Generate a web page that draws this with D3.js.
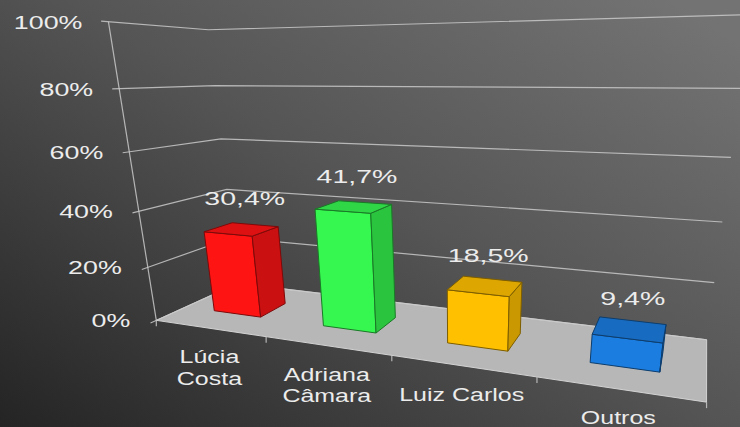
<!DOCTYPE html>
<html><head><meta charset="utf-8">
<script src="https://cdn.jsdelivr.net/npm/d3@7"></script>
<style>html,body{margin:0;padding:0;background:#3a3a3a;}svg{display:block}</style>
</head><body>
<svg id="chart" width="740" height="427"></svg>
<script>
// ---- data ----
const categories = [["Lúcia","Costa"],["Adriana","Câmara"],["Luiz Carlos"],["Outros"]];
const values = [30.4, 41.7, 18.5, 9.4];
const valueLabels = ["30,4%","41,7%","18,5%","9,4%"];
const yTicks = [0,20,40,60,80,100];
const yTickLabels = ["0%","20%","40%","60%","80%","100%"];
const barColors = ["#ff1414","#36f750","#ffc000","#1b7ddf"];

// ---- view calibration: world (category units, percent, depth 0=front..1=back) -> screen px ----
const calib = [
  [0,0,0,157,318],[0,100,0,108,23],[0,40,0,139,210],
  [1,0,0,265,337],[2,0,0,392,355],[3,0,0,537,380],[4,0,0,707,402],
  [0,0,1,237,286],[0,20,1,232,240],[0,40,1,227,187],[0,60,1,222,137],[0,80,1,217,86],[0,100,1,206,30],
  [4,0,1,707,337],[4,20,1,713,282],[4,40,1,722,223],[4,60,1,732,158]
];

const W = 740, H = 427;
const svg = d3.select("#chart");

const x = d3.scaleBand().domain(d3.range(categories.length)).range([0, categories.length])
  .paddingInner(0.56).paddingOuter(0.28);
const y = d3.scaleLinear().domain([0,100]).range([0,1]);

function solveCamera(pts){
  const A=[], b=[];
  pts.forEach(([X,Yv,Z,u,v])=>{
    const Y = y(Yv);
    A.push([X,Y,Z,1,0,0,0,0,-u*X,-u*Y,-u*Z]); b.push(u);
    A.push([0,0,0,0,X,Y,Z,1,-v*X,-v*Y,-v*Z]); b.push(v);
  });
  const n=11; const M=[...Array(n)].map(()=>Array(n+1).fill(0));
  for(let r=0;r<A.length;r++) for(let i=0;i<n;i++){
    for(let j=0;j<n;j++) M[i][j]+=A[r][i]*A[r][j];
    M[i][n]+=A[r][i]*b[r];
  }
  for(let c=0;c<n;c++){
    let p=c; for(let r=c+1;r<n;r++) if(Math.abs(M[r][c])>Math.abs(M[p][c])) p=r;
    [M[c],M[p]]=[M[p],M[c]];
    for(let r=0;r<n;r++){ if(r===c) continue; const f=M[r][c]/M[c][c]; for(let k=c;k<=n;k++) M[r][k]-=f*M[c][k]; }
  }
  return M.map((row,i)=>row[n]/row[i]);
}
const P = solveCamera(calib);
function proj(X,Yv,Z){
  const Y=y(Yv);
  const w = P[8]*X+P[9]*Y+P[10]*Z+1;
  return [(P[0]*X+P[1]*Y+P[2]*Z+P[3])/w, (P[4]*X+P[5]*Y+P[6]*Z+P[7])/w];
}
const line = d3.line();

// ---- background ----
const defs = svg.append("defs");
const g = defs.append("linearGradient").attr("id","bg").attr("x1","0").attr("y1","1").attr("x2","1").attr("y2","0.1");
g.append("stop").attr("offset","0").attr("stop-color","#242424");
g.append("stop").attr("offset","0.55").attr("stop-color","#555555");
g.append("stop").attr("offset","1").attr("stop-color","#737373");
svg.append("rect").attr("width",W).attr("height",H).attr("fill","url(#bg)");

const nCat = categories.length;
// floor
svg.append("path").attr("d", line([proj(0,0,0),proj(nCat,0,0),proj(nCat,0,1),proj(0,0,1)])+"Z")
  .attr("fill","#b7b7b7").attr("stroke","#d2d2d2").attr("stroke-width",1);

// gridlines
const grid = svg.append("g").attr("fill","none").attr("stroke","#c9c9c9").attr("stroke-width",1.2).attr("stroke-opacity",0.85);
yTicks.forEach(t=>{
  grid.append("path").attr("d", line([proj(0,t,-0.06),proj(0,t,1),proj(nCat,t,1)]));
});
// vertical axis
grid.append("path").attr("d", line([proj(0,0,0),proj(0,100,0)]));
// category ticks on the front edge
d3.range(nCat+1).forEach(i=>{
  const p = proj(i,0,0);
  grid.append("path").attr("d", line([p,[p[0],p[1]+6]]));
});

// bars
const zFront = 0.33, zBack = 0.67;
const bars = svg.append("g");
values.forEach((v,i)=>{
  const x0 = x(i), x1 = x(i)+x.bandwidth();
  const base = d3.color(barColors[i]);
  const faces = [
    {pts:[[x0,0,zFront],[x1,0,zFront],[x1,v,zFront],[x0,v,zFront]], c: base},
    {pts:[[x0,0,zBack],[x0,v,zBack],[x1,v,zBack],[x1,0,zBack]], c: base.darker(0.8)},
    {pts:[[x1,0,zFront],[x1,0,zBack],[x1,v,zBack],[x1,v,zFront]], c: base.darker(0.65)},
    {pts:[[x0,0,zFront],[x0,v,zFront],[x0,v,zBack],[x0,0,zBack]], c: base.darker(0.65)},
    {pts:[[x0,v,zFront],[x1,v,zFront],[x1,v,zBack],[x0,v,zBack]], c: base.darker(0.4)}
  ];
  faces.forEach(f=>{
    const sp = f.pts.map(p=>proj(...p));
    if (d3.polygonArea(sp) > 0) {
      bars.append("path").attr("d", line(sp)+"Z").attr("fill", f.c)
        .attr("stroke", base.darker(2)).attr("stroke-width",1).attr("stroke-linejoin","round");
    }
  });
});

const font = "'Liberation Sans', Arial, sans-serif";
const txt = "#ececec";
// y tick labels
yTicks.forEach((t,i)=>{
  const p = proj(0,t,0);
  svg.append("text").attr("transform",`translate(${p[0]-26},${p[1]+7}) scale(1.45,1)`)
    .attr("text-anchor","end").attr("font-family",font).attr("font-size",18.5).attr("fill",txt)
    .text(yTickLabels[i]);
});
// category labels
categories.forEach((lines,i)=>{
  const p = proj(x(i)+x.bandwidth()/2,0,0);
  lines.forEach((s,k)=>{
    svg.append("text").attr("transform",`translate(${p[0]},${p[1]+35+k*21.5}) scale(1.35,1)`)
      .attr("text-anchor","middle").attr("font-family",font).attr("font-size",18.5).attr("fill",txt).text(s);
  });
});
// value labels
values.forEach((v,i)=>{
  const p = proj(x(i)+x.bandwidth()/2, v, (zFront+zBack)/2);
  svg.append("text").attr("transform",`translate(${p[0]+3},${p[1]-24}) scale(1.5,1)`)
    .attr("text-anchor","middle").attr("font-family",font).attr("font-size",19).attr("fill",txt).text(valueLabels[i]);
});
</script>
</body></html>
